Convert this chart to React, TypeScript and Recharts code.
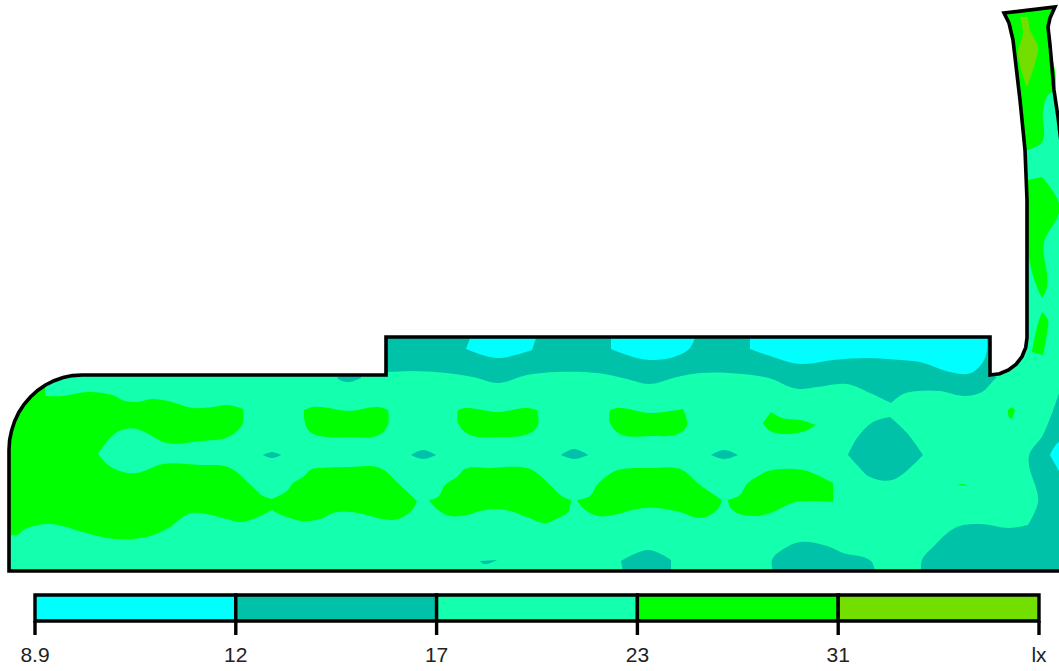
import { ScatterChart, Scatter, XAxis, YAxis, BarChart, Bar } from 'recharts';

// floor plan coordinates, x along the hall, y above the floor line
type Pt = [number, number];

const hallOutline: Pt[] = [
    [20, 0], [0.9, 0], [0.9, 12.1], [0.96, 13.08], [1.15, 14], [1.46, 14.97], [1.88, 15.85], [2.41, 16.67], [3.04, 17.4], [3.76, 18.05], [4.55, 18.6], [5.41, 19.03], [6.31, 19.34], [7.25, 19.54], [8.2, 19.6],
    [38.6, 19.6], [38.6, 23.4], [99, 23.4], [99, 19.6], [99.96, 19.73], [100.85, 20.1], [101.62, 20.68], [102.2, 21.45], [102.57, 22.34], [102.7, 23.3],
    [102.7, 37.1], [102.5, 42.1], [102, 47.1], [101.3, 53.1], [100.9, 54.8], [100.4, 55.8], [105.5, 56.4], [105, 55.3],
    [104.8, 54.4], [105, 52.6], [105.4, 48.1], [105.8, 45.4], [106.2, 42.1], [107, 37.1], [107.5, 0], [20, 0],
];

// 12 - 17 lx
const tealBands: Pt[][] = [
    [[38.6, 23.4], [99, 23.4], [99, 19.6], [99.7, 19.4], [99.2, 18.9], [98.2, 17.9], [96.5, 17.5], [94, 18], [91.7, 18], [90.3, 17.7], [89.1, 16.8], [87, 17.8], [84.7, 18.7], [81.7, 18.4], [80, 18.2], [79, 18.4], [77.2, 19.2], [74.3, 19.7], [70, 19.8], [67.7, 19.4], [64.9, 18.7], [62.7, 19.2], [59.7, 19.8], [55.7, 19.9], [52.7, 19.6], [49.8, 18.8], [47.3, 19.4], [44.7, 19.8], [41, 20], [38.8, 19.9], [38.6, 19.9]],
    [[26.3, 11.6], [27.2, 11.9], [28.1, 11.6], [27.2, 11.3]],
    [[41.1, 11.6], [42.3, 12.1], [43.6, 11.6], [42.3, 11.2]],
    [[56.1, 11.6], [57.4, 12.2], [58.8, 11.6], [57.4, 11.2]],
    [[71.1, 11.6], [72.4, 12.1], [73.8, 11.6], [72.4, 11.2]],
    [[33.7, 19.3], [34, 19.5], [36.1, 19.5], [36.1, 19.3], [35, 18.9], [34.2, 19]],
    [[48, 1], [49.7, 1.1], [48.4, 0.7]],
    [[84.8, 11.6], [85.7, 13.3], [87.3, 14.9], [89, 15.4], [90.7, 13.8], [92.3, 11.6], [91.3, 10.6], [89.2, 9.1], [87, 9.4], [85.7, 10.6]],
    [[62.1, 1], [64.9, 2.1], [67.1, 1.1], [67.1, 0], [62.3, 0]],
    [[77.2, 1.1], [78.7, 2.4], [80, 2.9], [82.7, 2.5], [84.3, 1.8], [87.1, 1], [87.5, 0], [77.3, 0]],
    [[92.1, 0], [92.2, 1.1], [93.3, 2.4], [95.7, 4.4], [98, 4.7], [101, 4.3], [102.8, 4.6], [103.8, 6.9], [102.9, 11.5], [104.3, 13.6], [105.9, 17.8], [107, 17.8], [107, 0]],
];

// 8.9 - 12 lx
const cyanPatches: Pt[][] = [
    [[47, 23.3], [46.6, 22.2], [49.7, 21.3], [53.2, 22.1], [53.6, 23.3]],
    [[61.1, 23.3], [61.1, 22.2], [65, 21.1], [68.8, 22.1], [69.5, 23.3]],
    [[75, 23.3], [75, 22.2], [76.7, 21.6], [80, 20.7], [83.3, 21.1], [86.7, 21.3], [90, 21.1], [92, 20.9], [95, 19.9], [96.7, 19.7], [97.3, 19.9], [98.3, 20.9], [98.7, 22.1], [98.7, 23.3]],
    [[105.9, 12.9], [105, 11.6], [105.9, 10], [107, 10], [107, 12.9]],
];

// 23 - 31 lx
const greenPatches: Pt[][] = [
    [[4.5, 18.4], [4.5, 17.5], [6.3, 17.5], [8.8, 17.9], [11.2, 17.6], [12.5, 17], [13.7, 16.9], [15.2, 17.2], [16.8, 17], [19.3, 16.3], [21.3, 16.4], [22.8, 16.6], [24.3, 16.2], [24.2, 14.6], [22.8, 13.4], [20, 13], [16.7, 12.8], [13.7, 14.2], [12.5, 14.2], [11.3, 13.6], [9.8, 11.7], [10.8, 10.6], [12.3, 9.9], [13.7, 9.8], [16.3, 10.7], [20, 10.6], [22.8, 10.4], [25.3, 8.4], [26.3, 7.5], [27.2, 7.2], [27.2, 6.1], [24.2, 4.9], [22.7, 5.2], [20, 5.8], [18.8, 5.7], [17, 4.4], [15.3, 3.6], [13.3, 3.2], [10.7, 3.3], [8.3, 3.9], [5, 4.7], [2.5, 4.2], [1.7, 3.6], [0.9, 3.6], [0.9, 12.1], [1.15, 14], [1.88, 15.85], [3.04, 17.4], [4, 18.2]],
    [[27.2, 7.2], [28.8, 8.1], [29.2, 8.7], [30.3, 9.4], [31.2, 10.2], [32, 10.3], [35, 10.4], [38, 10.3], [40, 8.6], [41.7, 7], [41.2, 6.1], [40.3, 5.4], [39.2, 5.1], [37.8, 5.3], [36.3, 5.7], [35, 5.9], [33.3, 5.8], [32, 5.2], [30.2, 5], [28.7, 5.4], [27.7, 5.8], [27.2, 6.1]],
    [[42.9, 7.1], [43.8, 7.4], [44.5, 8.6], [45.7, 9.4], [46.5, 10.2], [49, 10.3], [53, 10.2], [55, 8.6], [56.3, 7.4], [57.1, 7.1], [56.8, 5.9], [55.8, 5.3], [54.5, 4.8], [52.7, 5.4], [51, 6], [49.7, 6.2], [48, 6], [46.7, 5.6], [45, 5.5], [43.8, 6.1]],
    [[57.7, 7.1], [59, 7.5], [59.7, 8.6], [61.3, 9.9], [62.3, 10.2], [65, 10.3], [68, 10.2], [70, 8.6], [72.2, 7.1], [71.7, 6.1], [70, 5.3], [68, 5.9], [65.7, 6.3], [63.7, 6.2], [61.3, 5.6], [59.8, 5.5], [58.3, 6.3]],
    [[72.8, 7.1], [74, 7.6], [74.7, 8.7], [76, 9.6], [76.8, 10], [80.3, 10.1], [81.7, 9.6], [83.3, 8.8], [83.3, 6.9], [81.3, 7], [79.5, 6.9], [77, 5.8], [75.5, 5.5], [73.7, 5.8], [73, 6.4]],
    [[30.4, 16.1], [31.3, 16.4], [35, 16], [37.8, 16.4], [38.8, 16.1], [38.8, 14.6], [37.9, 13.6], [35, 13.4], [32, 13.5], [31, 13.9], [30.5, 14.8]],
    [[45.8, 16.1], [46.5, 16.3], [49.8, 15.9], [52.7, 16.3], [53.7, 16.1], [53.8, 14.6], [53, 13.8], [49.7, 13.4], [46.8, 13.7], [45.8, 14.8]],
    [[61, 16.1], [61.8, 16.3], [65, 15.8], [68.3, 16.2], [68.7, 14.6], [68, 13.8], [65, 13.5], [62, 13.7], [61, 14.8]],
    [[76.3, 14.8], [77.1, 15.9], [78.2, 15.3], [80, 15.1], [81.6, 14.6], [80.2, 13.9], [77, 14]],
    [[100.8, 16.1], [101.2, 16.4], [101.5, 16.1], [101.2, 15.2], [100.9, 15.4]],
    [[95.7, 8.6], [96.3, 8.7], [96.8, 8.5]],
    [[100.4, 55.8], [105.5, 56.4], [105, 55.3], [104.8, 54.4], [105, 52.6], [105.4, 48.1], [105.2, 47.9], [104.8, 47.6], [104.3, 46.1], [104.2, 42.9], [103.5, 42.4], [102.7, 42.1], [102.5, 42.1], [102, 47.1], [101.3, 53.1], [100.9, 54.8]],
    [[102.8, 39.1], [104.2, 39.4], [105.9, 36.8], [105.9, 35.8], [104.4, 32.9], [104.7, 28.4], [104.2, 27.3], [103.5, 28.9], [102.9, 31.4]],
    [[104.2, 25.9], [104.8, 25.1], [104.7, 23.8], [104.3, 21.6], [103.2, 21.9], [103.7, 24.4]],
];

// 31 lx and up
const limePatches: Pt[][] = [
    [[102, 55.4], [102.8, 55.4], [103, 54.1], [103.8, 52.4], [103.5, 50.8], [102.7, 48.4], [101.8, 51.8], [102.3, 53.8]],
];

const legendTicks = ['8.9', '12', '17', '23', '31', 'lx'];
const legendKeys = ['a', 'b', 'c', 'd', 'e'];
const legendColors = ['#00FFFF', '#00C2A8', '#14FFAE', '#00FF00', '#73DF00'];
const legendRow = [{ name: 'lx', a: 1, b: 1, c: 1, d: 1, e: 1 }];

const toPoints = (pts: Pt[]) => pts.map(([x, y]) => ({ x, y }));

const layers = [
    ...[hallOutline].map((pts) => ({ pts, color: legendColors[2] })),
    ...tealBands.map((pts) => ({ pts, color: legendColors[1] })),
    ...cyanPatches.map((pts) => ({ pts, color: legendColors[0] })),
    ...greenPatches.map((pts) => ({ pts, color: legendColors[3] })),
    ...limePatches.map((pts) => ({ pts, color: legendColors[4] })),
];

const noDot = () => <g />;

// closed curve for the contour patches: rounds the gentle bends, keeps real corners sharp
const contourCurve = (context: any) => {
    let pts: Pt[] = [];
    return {
        areaStart() {},
        areaEnd() {},
        lineStart() {
            pts = [];
        },
        point(x: number, y: number) {
            pts.push([x, y]);
        },
        lineEnd() {
            const n = pts.length;
            if (n < 3) return;
            const tangents = pts.map((p, i) => {
                const a = pts[(i + n - 1) % n];
                const b = pts[(i + 1) % n];
                const inX = p[0] - a[0];
                const inY = p[1] - a[1];
                const outX = b[0] - p[0];
                const outY = b[1] - p[1];
                const inLen = Math.hypot(inX, inY) || 1;
                const outLen = Math.hypot(outX, outY) || 1;
                const cos = (inX * outX + inY * outY) / (inLen * outLen);
                if (cos < 0.55) return [0, 0];
                const tx = inX / inLen + outX / outLen;
                const ty = inY / inLen + outY / outLen;
                const len = Math.hypot(tx, ty) || 1;
                return [tx / len, ty / len];
            });
            context.moveTo(pts[0][0], pts[0][1]);
            for (let i = 0; i < n; i++) {
                const j = (i + 1) % n;
                const d = Math.hypot(pts[j][0] - pts[i][0], pts[j][1] - pts[i][1]) / 3;
                context.bezierCurveTo(
                    pts[i][0] + tangents[i][0] * d,
                    pts[i][1] + tangents[i][1] * d,
                    pts[j][0] - tangents[j][0] * d,
                    pts[j][1] - tangents[j][1] * d,
                    pts[j][0],
                    pts[j][1],
                );
            }
            context.closePath();
        },
    };
};

export default function App() {
    return (
        <div style={{ position: 'absolute', left: 0, top: 0, width: 1059, height: 671, background: '#fff' }}>
            <ScatterChart width={1059} height={585} margin={{ top: 0, right: 0, bottom: 0, left: 0 }}>
                <XAxis type="number" dataKey="x" domain={[0, 105.9]} hide allowDataOverflow />
                <YAxis type="number" dataKey="y" domain={[-1.4, 57.1]} hide allowDataOverflow />
                {layers.map((layer, i) => (
                    <Scatter
                        key={i}
                        data={toPoints(layer.pts)}
                        shape={noDot}
                        line={{ fill: layer.color, stroke: 'none' }}
                        lineJointType={i === 0 ? 'linear' : (contourCurve as any)}
                        isAnimationActive={false}
                    />
                ))}
                <Scatter
                    data={toPoints(hallOutline)}
                    shape={noDot}
                    line={{ fill: 'none', stroke: '#000', strokeWidth: 3.6 }}
                    lineJointType="linear"
                    isAnimationActive={false}
                />
            </ScatterChart>
            <div style={{ position: 'absolute', left: 0, top: 585 }}>
                <BarChart
                    width={1059}
                    height={86}
                    data={legendRow}
                    layout="vertical"
                    barCategoryGap={0}
                    margin={{ top: 10, right: 20, bottom: 0, left: 35 }}
                >
                    <XAxis
                        type="number"
                        domain={[0, 5]}
                        ticks={[0, 1, 2, 3, 4, 5]}
                        tickFormatter={(v: number) => legendTicks[v]}
                        interval={0}
                        height={50}
                        axisLine={false}
                        tickSize={14}
                        tickMargin={12}
                        tickLine={{ stroke: '#000', strokeWidth: 3.4 }}
                        tick={{ fill: '#222', fontSize: 21, fontFamily: 'Liberation Sans' }}
                    />
                    <YAxis type="category" dataKey="name" hide />
                    {legendKeys.map((key, i) => (
                        <Bar key={key} dataKey={key} stackId="scale" fill={legendColors[i]} stroke="#000" strokeWidth={3.4} isAnimationActive={false} />
                    ))}
                </BarChart>
            </div>
        </div>
    );
}
